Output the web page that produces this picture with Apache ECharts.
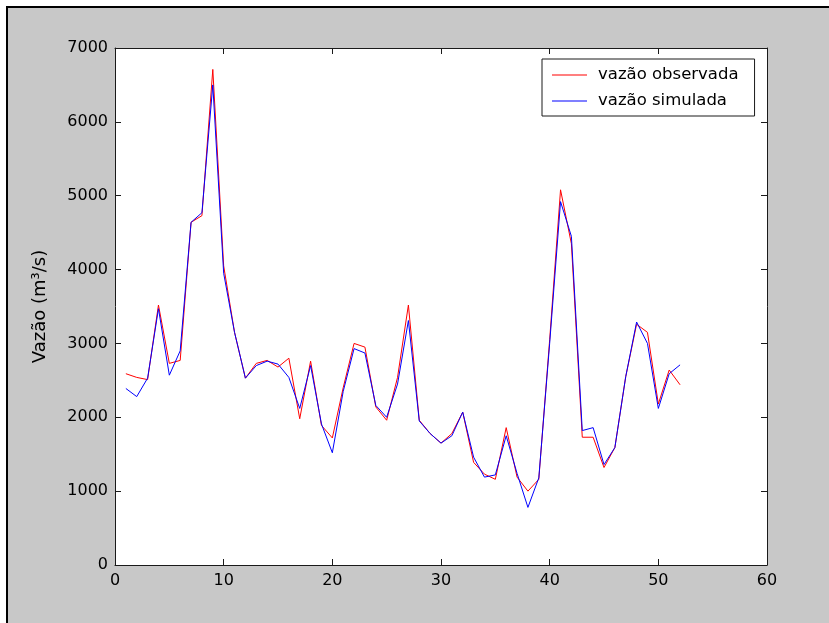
<!DOCTYPE html>
<html>
<head>
<meta charset="utf-8">
<script src="https://cdn.jsdelivr.net/npm/echarts@6/dist/echarts.min.js"></script>
<style>
  html, body { margin: 0; padding: 0; background: #ffffff; }
  #chart { width: 829px; height: 623px; }
</style>
</head>
<body>
<div id="chart"></div>
<script>
// Weekly flow values (m³/s), weeks 1..52
const weeks = Array.from({ length: 52 }, (_, i) => i + 1);
const observada = [2590, 2540, 2510, 3520, 2730, 2770, 4640, 4730, 6710, 4050,
  3150, 2530, 2730, 2770, 2680, 2800, 1980, 2760, 1890, 1720,
  2400, 3000, 2950, 2140, 1960, 2540, 3520, 1960, 1780, 1650,
  1780, 2070, 1390, 1230, 1160, 1860, 1190, 1000, 1160, 3050,
  5080, 4350, 1730, 1730, 1320, 1590, 2550, 3260, 3150, 2180,
  2640, 2440];
const simulada = [2390, 2280, 2530, 3470, 2570, 2900, 4640, 4770, 6500, 3950,
  3150, 2530, 2700, 2760, 2720, 2540, 2120, 2700, 1910, 1520,
  2350, 2930, 2870, 2160, 2000, 2450, 3310, 1950, 1780, 1650,
  1750, 2070, 1460, 1190, 1220, 1750, 1240, 780, 1180, 3000,
  4920, 4450, 1820, 1860, 1360, 1590, 2550, 3290, 3000, 2120,
  2590, 2710];
const seriesNames = ['vazão observada', 'vazão simulada'];
const yAxisTitle = 'Vazão (m³/s)';

const FONT = '"DejaVu Sans", sans-serif';
const AXIS_COLOR = '#1a1a1a';

const pairs = vals => vals.map((v, i) => [weeks[i], v]);
const plain = v => String(v);

const chart = echarts.init(document.getElementById('chart'), null, { renderer: 'canvas' });

function axisX(position, showLabels) {
  return {
    type: 'value', position, min: 0, max: 60, interval: 10,
    axisLine: { show: true, onZero: false, lineStyle: { color: AXIS_COLOR, width: 1 } },
    axisTick: { show: true, inside: true, length: 6, lineStyle: { color: AXIS_COLOR } },
    axisLabel: { show: showLabels, color: '#000', fontFamily: FONT, fontSize: 16, margin: 8, formatter: plain },
    splitLine: { show: false }
  };
}
function axisY(position, showLabels) {
  return {
    type: 'value', position, min: 0, max: 7000, interval: 1000,
    axisLine: { show: true, onZero: false, lineStyle: { color: AXIS_COLOR, width: 1 } },
    axisTick: { show: true, inside: true, length: 6, lineStyle: { color: AXIS_COLOR } },
    axisLabel: { show: showLabels, color: '#000', fontFamily: FONT, fontSize: 16, margin: 7, formatter: plain },
    splitLine: { show: false }
  };
}

const yMain = axisY('left', true);
yMain.name = yAxisTitle;
yMain.nameLocation = 'middle';
yMain.nameGap = 66;
yMain.nameTextStyle = { color: '#000', fontFamily: FONT, fontSize: 18 };

chart.setOption({
  backgroundColor: '#c8c8c8',
  animation: false,
  grid: {
    left: 115, top: 48, width: 652, height: 517,
    show: true, backgroundColor: '#ffffff', borderWidth: 0
  },
  xAxis: [axisX('bottom', true), axisX('top', false)],
  yAxis: [yMain, axisY('right', false)],
  legend: {
    orient: 'vertical',
    left: 542, top: 59,
    padding: [7, 16, 6, 10],
    icon: 'rect',
    itemWidth: 35, itemHeight: 1, itemGap: 8,
    backgroundColor: '#ffffff',
    borderColor: '#1a1a1a', borderWidth: 1, borderRadius: 0,
    textStyle: { color: '#000', fontFamily: FONT, fontSize: 16.5, lineHeight: 18, padding: [0, 0, 0, 6] },
    data: seriesNames
  },
  series: [
    {
      name: seriesNames[0], type: 'line', data: pairs(observada),
      symbol: 'none', smooth: false,
      lineStyle: { color: '#ff0000', width: 1 }, itemStyle: { color: '#ff0000' }
    },
    {
      name: seriesNames[1], type: 'line', data: pairs(simulada),
      symbol: 'none', smooth: false,
      lineStyle: { color: '#0000ff', width: 1 }, itemStyle: { color: '#0000ff' }
    }
  ],
  graphic: [
    // white margin and dark frame along the top and left edges of the figure
    { type: 'rect', shape: { x: 0, y: 0, width: 829, height: 6 }, style: { fill: '#ffffff' }, silent: true },
    { type: 'rect', shape: { x: 0, y: 0, width: 6, height: 623 }, style: { fill: '#ffffff' }, silent: true },
    { type: 'rect', shape: { x: 6, y: 6, width: 823, height: 2 }, style: { fill: '#000000' }, silent: true },
    { type: 'rect', shape: { x: 6, y: 6, width: 2, height: 617 }, style: { fill: '#000000' }, silent: true }
  ]
});
</script>
</body>
</html>
